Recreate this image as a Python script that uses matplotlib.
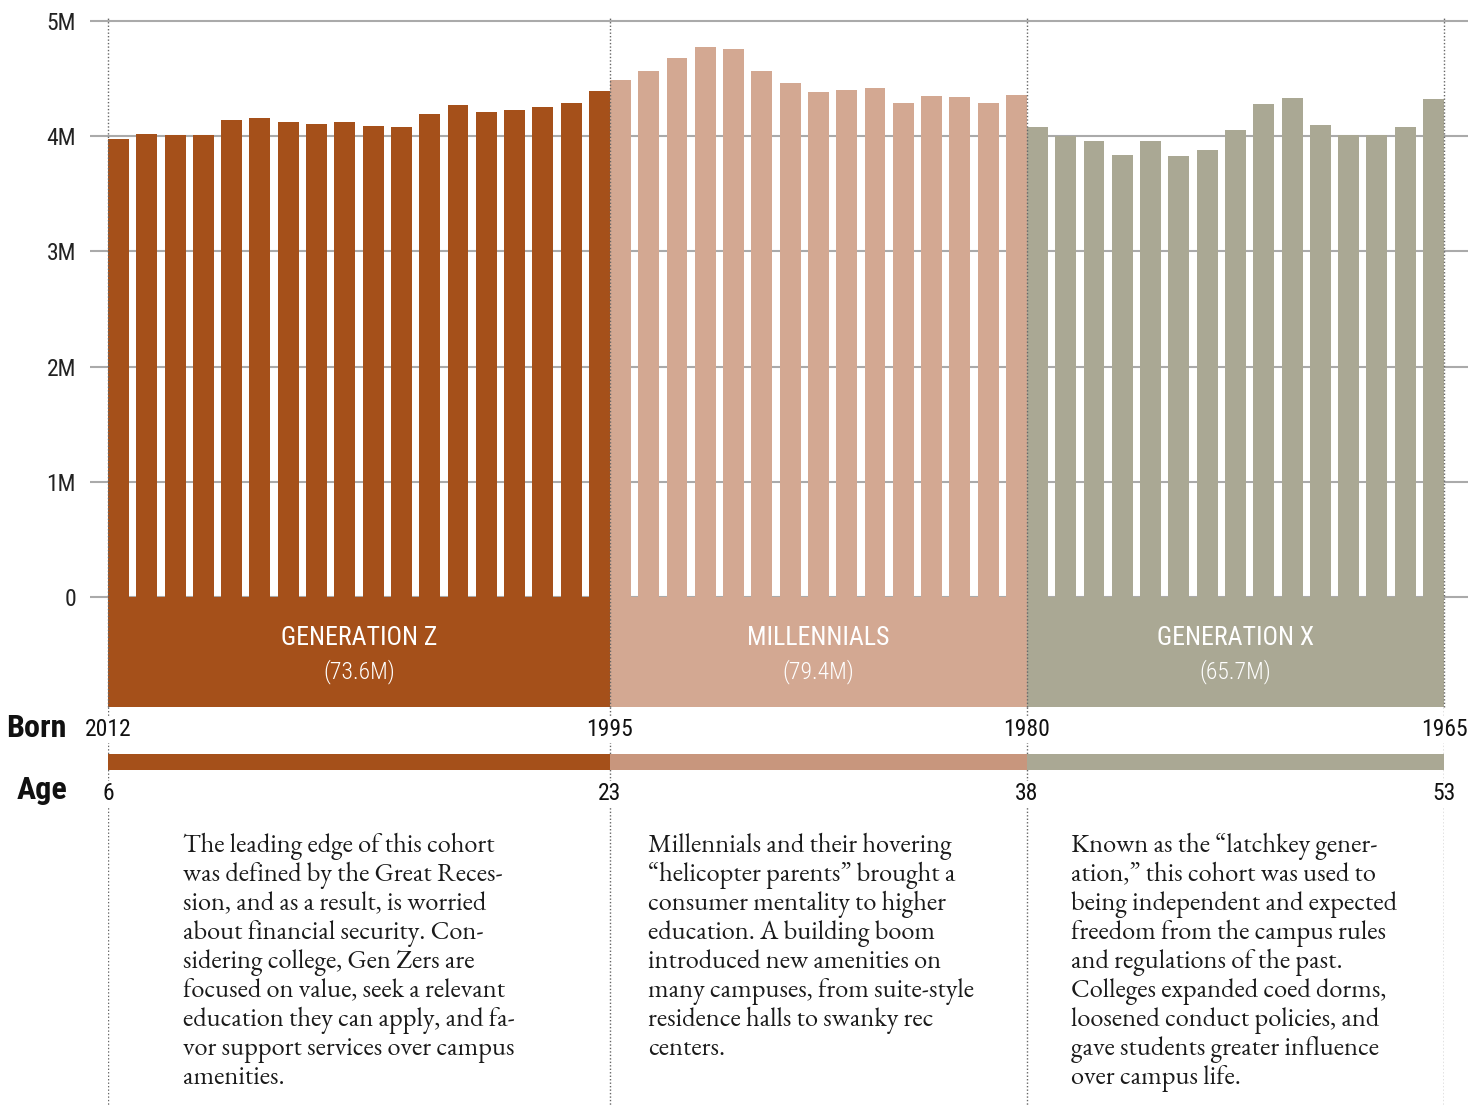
import matplotlib
matplotlib.use("Agg")
import matplotlib.pyplot as plt
from matplotlib.patches import Rectangle

# dados (nascimentos por ano, milhoes)
genz = [3.98, 4.02, 4.01, 4.01, 4.14, 4.16, 4.12, 4.11, 4.12, 4.09, 4.08, 4.19,
        4.27, 4.21, 4.23, 4.25, 4.29, 4.39]
millennials = [4.49, 4.57, 4.68, 4.77, 4.76, 4.57, 4.46, 4.38, 4.40, 4.42, 4.29,
               4.35, 4.34, 4.29, 4.36]
genx = [4.08, 4.00, 3.96, 3.84, 3.96, 3.83, 3.88, 4.05, 4.28, 4.33, 4.10, 4.01,
        4.01, 4.08, 4.32]

gen_names = ["GENERATION Z", "MILLENNIALS", "GENERATION X"]
gen_totals = ["(73.6M)", "(79.4M)", "(65.7M)"]
born_labels = ["2012", "1995", "1980", "1965"]
age_labels = ["6", "23", "38", "53"]
yticks = [0, 1, 2, 3, 4, 5]
ytick_labels = ["0", "1M", "2M", "3M", "4M", "5M"]

textos = [
    ["The leading edge of this cohort",
     "was defined by the Great Reces-",
     "sion, and as a result, is worried",
     "about financial security. Con-",
     "sidering college, Gen Zers are",
     "focused on value, seek a relevant",
     "education they can apply, and fa-",
     "vor support services over campus",
     "amenities."],
    ["Millennials and their hovering",
     "\u201chelicopter parents\u201d brought a",
     "consumer mentality to higher",
     "education. A building boom",
     "introduced new amenities on",
     "many campuses, from suite-style",
     "residence halls to swanky rec",
     "centers."],
    ["Known as the \u201clatchkey gener-",
     "ation,\u201d this cohort was used to",
     "being independent and expected",
     "freedom from the campus rules",
     "and regulations of the past.",
     "Colleges expanded coed dorms,",
     "loosened conduct policies, and",
     "gave students greater influence",
     "over campus life."],
]

cores = ["#A5501A", "#D3A892", "#AAA894"]
cores_idade = ["#A5501A", "#C8967D", "#AAA894"]

cond = ["Roboto Condensed", "DejaVu Sans"]
serif = ["EB Garamond", "Liberation Serif", "DejaVu Serif"]

W, H = 1468, 1105
fig = plt.figure(figsize=(W / 100, H / 100), dpi=100)

def fx(px):
    return px / W

def fy(py):
    return 1 - py / H

bw = 0.74
grupos = [genz, millennials, genx]
# inicio de cada grupo
starts = []
s = 0.0
for g in grupos:
    starts.append(s)
    s += len(g) - 1 + bw
xmax = s

ymin = -0.955
ax = fig.add_axes([fx(108), fy(707), fx(1444) - fx(108), fy(21) - fy(707)])
ax.set_xlim(0, xmax)
ax.set_ylim(ymin, 5)
for sp in ax.spines.values():
    sp.set_visible(False)
ax.set_xticks([])
ax.set_yticks(yticks)
ax.set_yticklabels(ytick_labels, family=cond, fontsize=17, color="#222222")
ax.tick_params(axis="y", length=0, pad=23)

pxu = (1444 - 108) / xmax
ax.hlines(yticks, -18 / pxu, (1468 - 108) / pxu, color="#AAAAAA", lw=1.5,
          zorder=0, clip_on=False)

bounds = starts + [xmax]
for i, g in enumerate(grupos):
    xs = [starts[i] + k for k in range(len(g))]
    ax.bar(xs, g, width=bw, align="edge", color=cores[i], zorder=2)
    largura = bounds[i + 1] - bounds[i]
    ax.add_patch(Rectangle((bounds[i], ymin), largura, -ymin, color=cores[i],
                           zorder=2, lw=0))
    cx = bounds[i] + largura / 2
    ax.text(cx, -0.36, gen_names[i], ha="center", va="center", color="white",
            family=cond, fontsize=18.5, zorder=3)
    ax.text(cx, -0.65, gen_totals[i], ha="center", va="center", color="white",
            family=cond, fontweight="light", fontsize=17, zorder=3)

for b in bounds:
    ax.vlines(b, ymin, 5.03, color="#666666", lw=1, linestyles=(0, (1, 1.5)),
              zorder=4, clip_on=False)

# parte de baixo: nascimento, idade, textos
ax2 = fig.add_axes([fx(108), 0, fx(1444) - fx(108), fy(707)], sharex=ax)
ax2.set_ylim(H - 707, 0)
ax2.axis("off")
for b in bounds:
    ax2.vlines(b, 0, H - 707, color="#666666", lw=1, linestyles=(0, (1, 1.5)),
               zorder=1)

for i in range(3):
    ax2.add_patch(Rectangle((bounds[i], 754 - 707), bounds[i + 1] - bounds[i], 16,
                            color=cores_idade[i], lw=0, zorder=2))

for b, lb, la in zip(bounds, born_labels, age_labels):
    ax2.text(b, 730 - 707, lb, ha="center", va="center", family=cond, fontsize=17,
             color="#111111", zorder=3,
             bbox=dict(facecolor="white", edgecolor="none", pad=1))
    ax2.text(b, 794 - 707, la, ha="center", va="center", family=cond, fontsize=17,
             color="#111111", zorder=3,
             bbox=dict(facecolor="white", edgecolor="none", pad=1))

fig.text(fx(67), fy(728), "Born", ha="right", va="center", family=cond,
         fontsize=23, fontweight="bold", color="#111111")
fig.text(fx(67), fy(790), "Age", ha="right", va="center", family=cond,
         fontsize=23, fontweight="bold", color="#111111")

text_x = [183, 648, 1071]
for i, linhas in enumerate(textos):
    for j, linha in enumerate(linhas):
        fig.text(fx(text_x[i]), fy(852 + 29 * j), linha, ha="left", va="baseline",
                 family=serif, fontsize=19, color="#1a1a1a")

fig.savefig("out.png", dpi=100, facecolor="white")
